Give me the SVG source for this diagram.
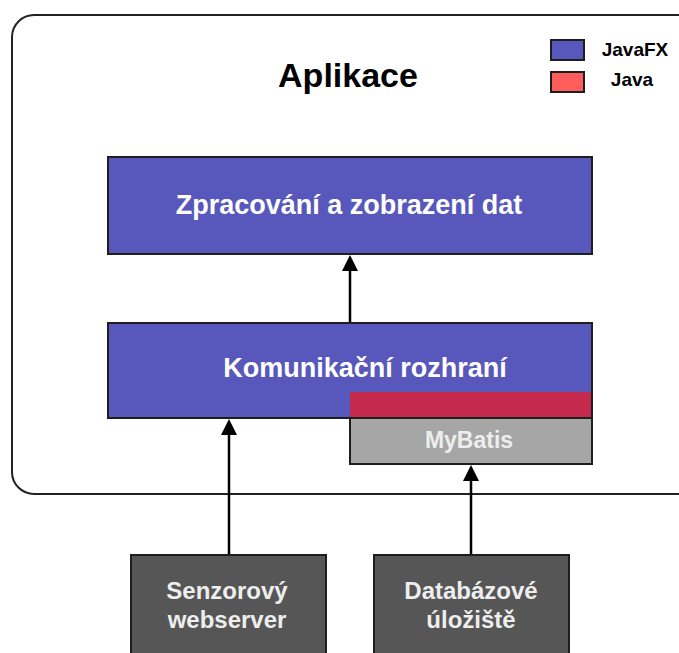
<svg xmlns="http://www.w3.org/2000/svg" width="679" height="653" viewBox="0 0 679 653">
  <defs>
    <style>
      .label { font-family: "Liberation Sans", Arial, sans-serif; font-weight: bold; text-anchor: middle; }
      .box { stroke: #1e1e1e; stroke-width: 2; }
      .blue { fill: #5858bc; }
      .red { fill: #c42a4e; }
      .grey { fill: #a6a6a6; }
      .dark { fill: #565656; }
      .conn { stroke: #000; stroke-width: 2.5; fill: none; }
      .head { fill: #000; }
    </style>
  </defs>
  <rect width="679" height="653" fill="#fff"/>

  <!-- application frame -->
  <g id="aplikace">
    <rect x="12" y="15" width="700" height="479" rx="22" ry="22" fill="#fff" stroke="#222" stroke-width="2"/>
    <text class="label" x="348" y="87" font-size="34" fill="#000">Aplikace</text>
  </g>

  <!-- legend -->
  <g id="legend">
    <rect class="box blue" x="551" y="40" width="33" height="20" stroke-width="1.5"/>
    <rect class="box" x="551" y="72" width="33" height="20" fill="#ff5c5c" stroke-width="1.5"/>
    <text class="label" x="635" y="56" font-size="19" fill="#000">JavaFX</text>
    <text class="label" x="632" y="86" font-size="19" fill="#000">Java</text>
  </g>

  <g id="zpracovani">
    <rect class="box blue" x="108" y="157" width="484" height="97"/>
    <text class="label" x="349" y="214" font-size="27" fill="#fff">Zpracování a zobrazení dat</text>
  </g>

  <g id="komunikace">
    <rect class="box blue" x="108" y="323" width="484" height="95"/>
    <rect class="red" x="350" y="392" width="242" height="26"/>
    <line x1="592" y1="323" x2="592" y2="418" stroke="#1e1e1e" stroke-width="2"/>
    <line x1="108" y1="418" x2="592" y2="418" stroke="#1e1e1e" stroke-width="2"/>
    <text class="label" x="365" y="377" font-size="27" fill="#fff">Komunikační rozhraní</text>
  </g>

  <g id="mybatis">
    <rect class="box grey" x="350" y="418" width="242" height="46"/>
    <text class="label" x="469" y="448" font-size="23" fill="#eee">MyBatis</text>
  </g>

  <g id="senzor">
    <rect class="box dark" x="131" y="555" width="195" height="110"/>
    <text class="label" x="227" y="599" font-size="24" fill="#eee">Senzorový</text>
    <text class="label" x="227" y="628" font-size="24" fill="#eee">webserver</text>
  </g>

  <g id="databaze">
    <rect class="box dark" x="374" y="555" width="195" height="110"/>
    <text class="label" x="471" y="599" font-size="24" fill="#eee">Databázové</text>
    <text class="label" x="471" y="628" font-size="24" fill="#eee">úložiště</text>
  </g>

  <!-- connectors: shaft plus filled head pointing up -->
  <g id="connectors">
    <line class="conn" x1="350" y1="322" x2="350" y2="266"/>
    <path class="head" d="M350,255 L342,271 L358,271 Z"/>
    <line class="conn" x1="229" y1="554" x2="229" y2="430"/>
    <path class="head" d="M229,419 L221,435 L237,435 Z"/>
    <line class="conn" x1="471" y1="554" x2="471" y2="476"/>
    <path class="head" d="M471,465 L463,481 L479,481 Z"/>
  </g>
</svg>
